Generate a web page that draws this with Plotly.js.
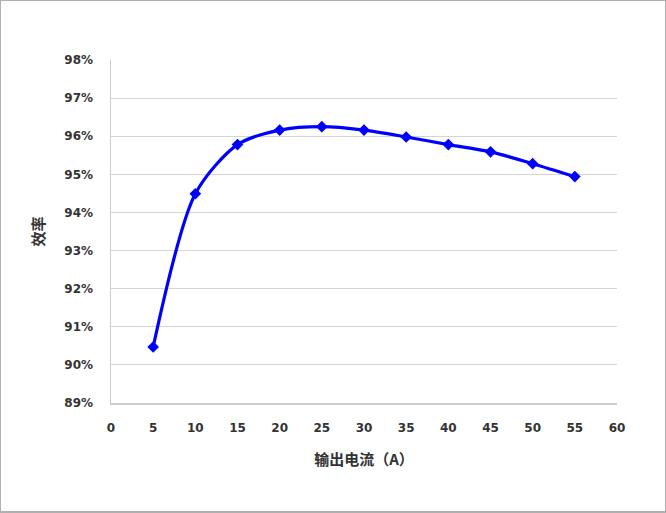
<!DOCTYPE html>
<html>
<head>
<meta charset="utf-8">
<script src="https://cdn.plot.ly/plotly-3.0.1.min.js"></script>
<style>
html,body{margin:0;padding:0;background:#fff;}
#frame{width:666px;height:513px;box-sizing:border-box;border:1px solid #b0b0b0;border-bottom-width:2px;}
#chart{width:664px;height:510px;}
</style>
</head>
<body>
<div id="frame"><div id="chart"></div></div>
<script>
const currentA = [5, 10, 15, 20, 25, 30, 35, 40, 45, 50, 55];
const efficiency = [90.47, 94.49, 95.78, 96.16, 96.25, 96.16, 95.98, 95.78, 95.59, 95.28, 94.94];
const xTicks = [0, 5, 10, 15, 20, 25, 30, 35, 40, 45, 50, 55, 60];
const yTicks = [89, 90, 91, 92, 93, 94, 95, 96, 97, 98];
const xTitle = '输出电流（A）';
const yTitle = '效率';

const tickFont = {family: 'DejaVu Sans', size: 12, color: '#333333', weight: 'bold'};
const titleFont = {family: 'Noto Sans CJK SC', size: 15, color: '#333333', weight: 'bold'};

Plotly.newPlot('chart', [{
  x: currentA,
  y: efficiency,
  type: 'scatter',
  mode: 'lines+markers',
  line: {color: '#0000ff', width: 3.2, shape: 'spline', smoothing: 0.8},
  marker: {symbol: 'diamond', size: 9, color: '#0000ff'},
  hoverinfo: 'none'
}], {
  width: 664,
  height: 510,
  margin: {l: 110, r: 48, t: 59, b: 108},
  paper_bgcolor: '#ffffff',
  plot_bgcolor: '#ffffff',
  showlegend: false,
  xaxis: {
    range: [0, 60],
    tickvals: xTicks,
    ticktext: xTicks.map(String),
    showgrid: false,
    zeroline: false,
    showline: true,
    linecolor: '#cccccc',
    linewidth: 1.5,
    ticks: 'outside',
    ticklen: 13,
    tickcolor: 'rgba(0,0,0,0)',
    tickfont: tickFont,
    title: {text: xTitle, font: titleFont, standoff: 20}
  },
  yaxis: {
    range: [89, 98],
    tickvals: yTicks,
    ticktext: yTicks.map(v => v + '%'),
    showgrid: true,
    gridcolor: '#d4d4d4',
    gridwidth: 1.2,
    zeroline: false,
    showline: true,
    linecolor: '#cccccc',
    linewidth: 1.5,
    ticks: 'outside',
    ticklen: 14,
    tickcolor: 'rgba(0,0,0,0)',
    tickfont: tickFont,
    title: {text: yTitle, font: titleFont, standoff: 16}
  }
}, {displayModeBar: false, staticPlot: true});
</script>
</body>
</html>
